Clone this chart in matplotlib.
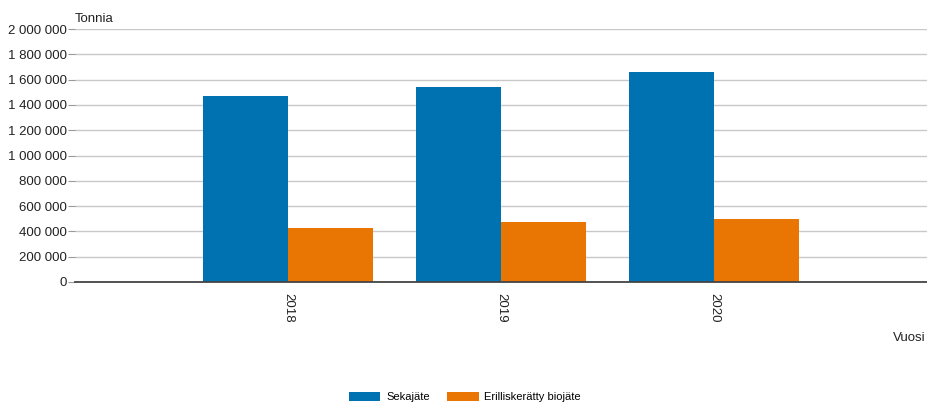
import matplotlib
matplotlib.use("Agg")
import matplotlib.pyplot as plt
import numpy as np
from matplotlib.patches import Patch

plt.rcParams['font.family'] = ['Liberation Sans', 'DejaVu Sans']

years = ["2018", "2019", "2020"]
sekajate = [1470000, 1544000, 1663000]
biojate = [429000, 472000, 498000]
series_names = ["Sekajäte", "Erilliskerätty biojäte"]
yticks = [0, 200000, 400000, 600000, 800000, 1000000, 1200000, 1400000,
          1600000, 1800000, 2000000]

c_blue = "#0071b1"
c_orange = "#e97503"

W, H = 927, 405
fig = plt.figure(figsize=(W / 100, H / 100), dpi=100)
ax = fig.add_axes([75 / W, (H - 282) / H, (927 - 75) / W, (282 - 29) / H])

x = np.arange(1, len(years) + 1)
bw = 0.4
ax.bar(x - bw / 2, sekajate, width=bw, color=c_blue, zorder=3)
ax.bar(x + bw / 2, biojate, width=bw, color=c_orange, zorder=3)

ax.set_xlim(0, 4)
ax.set_ylim(0, 2000000)
ax.set_yticks(yticks)
ax.set_yticklabels([f"{v:,}".replace(",", " ") for v in yticks], fontsize=9.5, color="#222222")
ax.set_xticks(x)
ax.set_xticklabels(years, rotation=-90, fontsize=9.5, color="#222222")
ax.tick_params(axis="y", length=5, color="#999999", pad=1)
ax.tick_params(axis="x", length=0, pad=8)
ax.grid(axis="y", color="#c8c8c8", linewidth=1, zorder=0)
for s in ["left", "right", "top"]:
    ax.spines[s].set_visible(False)
ax.spines["bottom"].set_color("#444444")
ax.spines["bottom"].set_linewidth(1.3)
ax.spines["bottom"].set_zorder(4)

fig.text(75 / W, (H - 19) / H, "Tonnia", fontsize=9.5, ha="left", va="center", color="#222222")
fig.text(926 / W, (H - 338) / H, "Vuosi", fontsize=9.5, ha="right", va="center", color="#222222")

handles = [Patch(facecolor=c_blue), Patch(facecolor=c_orange)]
fig.legend(handles, series_names, loc="center", bbox_to_anchor=(465 / W, (H - 397) / H),
           ncol=2, frameon=False, fontsize=8, handlelength=2.8, handleheight=0.9,
           handletextpad=0.5, columnspacing=1.6)

fig.savefig("out.png", dpi=100)
